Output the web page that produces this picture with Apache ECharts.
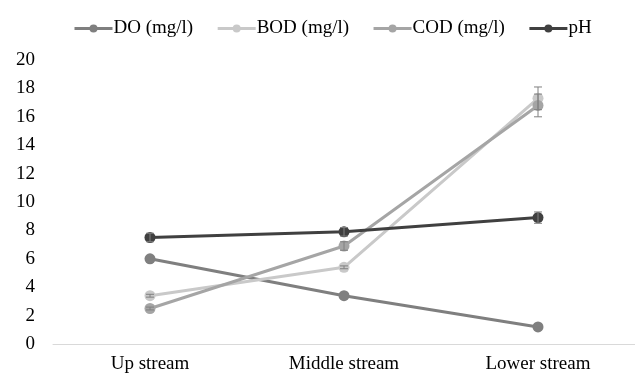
<!DOCTYPE html>
<html><head><meta charset="utf-8">
<script src="https://cdn.jsdelivr.net/npm/echarts@6/dist/echarts.min.js"></script>
<style>html,body{margin:0;padding:0;background:#fff}#c{width:635px;height:375px}</style>
</head><body><div id="c"></div>
<script>
var categories = ['Up stream', 'Middle stream', 'Lower stream'];
var seriesNames = ['DO (mg/l)', 'BOD (mg/l)', 'COD (mg/l)', 'pH'];
var DO = [6.0, 3.4, 1.2];
var BOD = [3.4, 5.4, 17.3];
var COD = [2.5, 6.9, 16.8];
var pH = [7.5, 7.9, 8.9];
var DOerr = [0.2, 0.1, 0.1];
var BODerr = [0.1, 0.1, 0.8];
var CODerr = [0.1, 0.3, 0.8];
var pHerr = [0.3, 0.3, 0.4];
var yTicks = [0, 2, 4, 6, 8, 10, 12, 14, 16, 18, 20];

var colors = ['#7f7f7f', '#c9c9c9', '#a5a5a5', '#404040'];
var values = [DO, BOD, COD, pH];
var errs = [DOerr, BODerr, CODerr, pHerr];
var font = 'Liberation Serif';

var series = [];
values.forEach(function (v, i) {
  series.push({
    name: seriesNames[i], type: 'line', data: v, symbol: 'circle', symbolSize: 11,
    lineStyle: { width: 3, color: colors[i] }, itemStyle: { color: colors[i] },
    z: 3 + i
  });
});
values.forEach(function (v, i) {
  series.push({
    type: 'custom', name: seriesNames[i] + ' err', silent: true, z: 10,
    data: v.map(function (y, j) { return [j, y - errs[i][j], y + errs[i][j]]; }),
    renderItem: function (params, api) {
      var lo = api.coord([api.value(0), api.value(1)]);
      var hi = api.coord([api.value(0), api.value(2)]);
      var w = 4;
      var st = { stroke: '#808080', lineWidth: 1 };
      return { type: 'group', children: [
        { type: 'line', shape: { x1: lo[0], y1: lo[1], x2: hi[0], y2: hi[1] }, style: st },
        { type: 'line', shape: { x1: lo[0] - w, y1: lo[1], x2: lo[0] + w, y2: lo[1] }, style: st },
        { type: 'line', shape: { x1: hi[0] - w, y1: hi[1], x2: hi[0] + w, y2: hi[1] }, style: st }
      ]};
    }
  });
});

var chart = echarts.init(document.getElementById('c'));
chart.setOption({
  animation: false,
  legend: {
    data: seriesNames, top: 14, left: 68, itemWidth: 38, itemHeight: 10, itemGap: 23,
    lineStyle: { width: 3 },
    textStyle: { fontFamily: font, fontSize: 19, color: '#000', padding: [0, 0, 0, -4] }
  },
  grid: { left: 53, right: 0, top: 60, bottom: 31 },
  xAxis: {
    type: 'category', data: categories, boundaryGap: true,
    axisLine: { lineStyle: { color: '#d9d9d9' } }, axisTick: { show: false },
    axisLabel: { fontFamily: font, fontSize: 19, color: '#000', margin: 11 }
  },
  yAxis: {
    type: 'value', min: yTicks[0], max: yTicks[yTicks.length - 1], interval: 2,
    splitLine: { show: false }, axisLine: { show: false }, axisTick: { show: false },
    axisLabel: { fontFamily: font, fontSize: 19, color: '#000', margin: 18 }
  },
  series: series
});
</script></body></html>
